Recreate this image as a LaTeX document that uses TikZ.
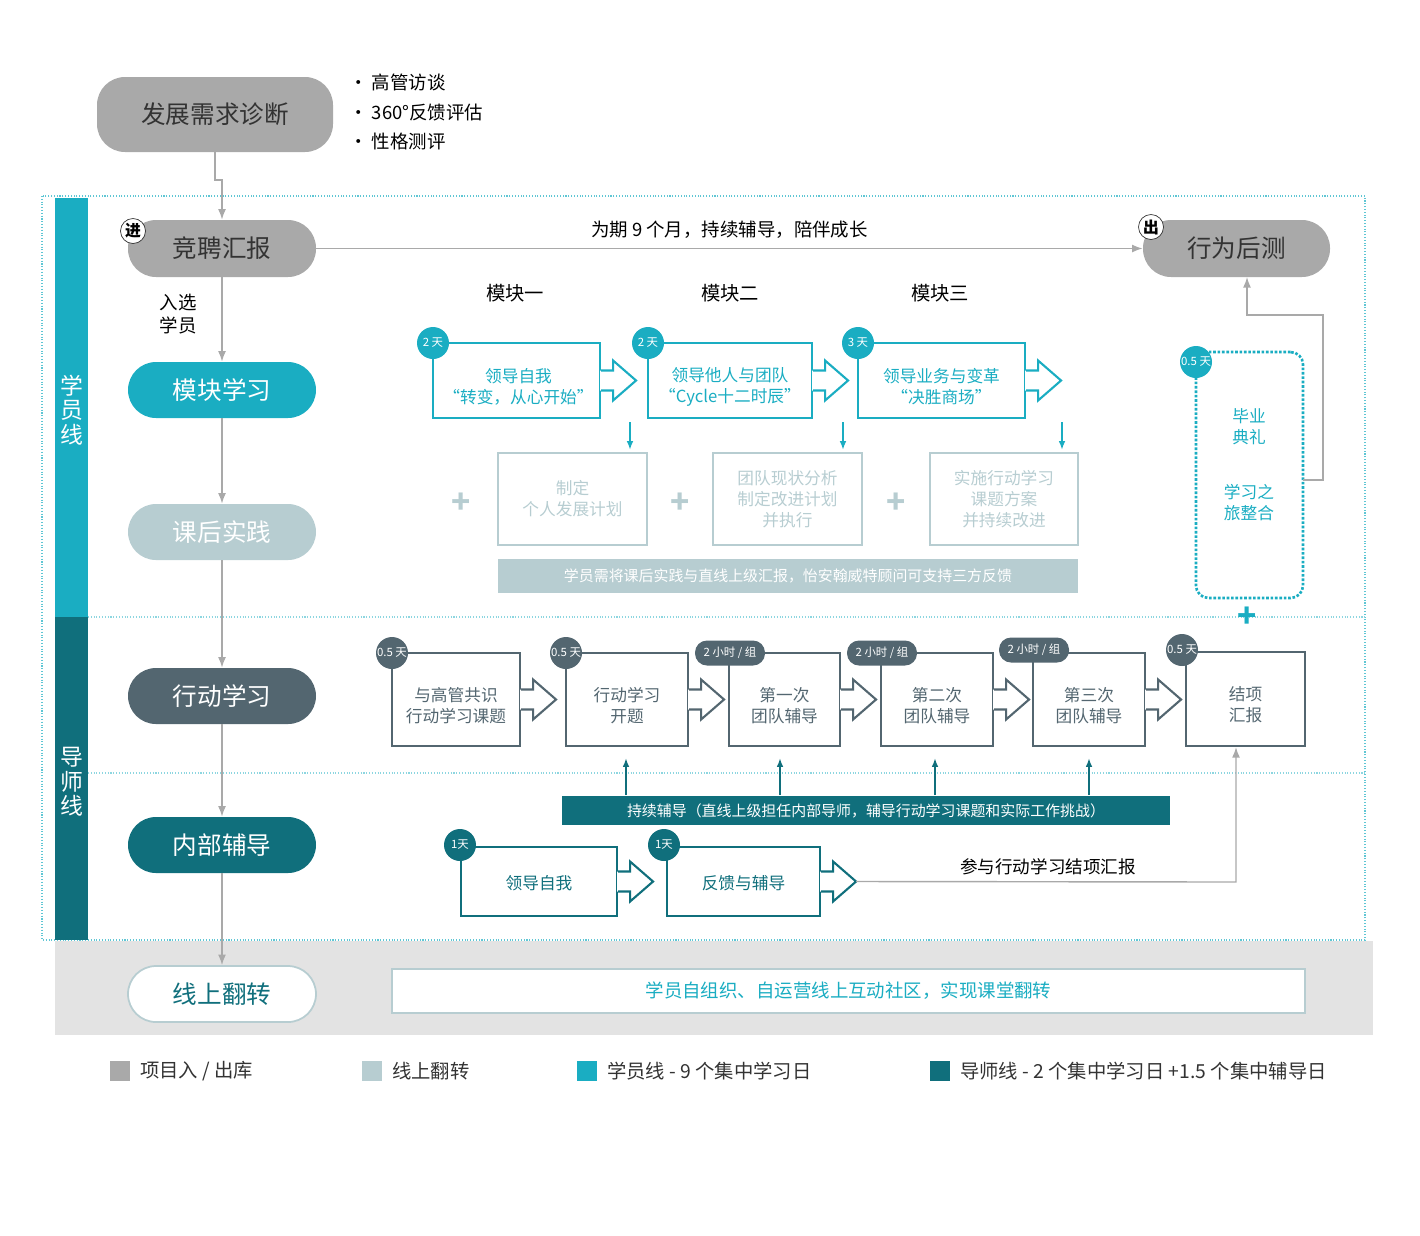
\documentclass[tikz,border=0pt]{standalone}
\usepackage{fontspec}
\setmainfont{Noto Sans CJK SC}
\usetikzlibrary{positioning,fit,calc,arrows.meta}
\definecolor{pgray}{HTML}{A9A9A9}
\definecolor{pcyan}{HTML}{1AADC2}
\definecolor{plight}{HTML}{B7CDD1}
\definecolor{pslate}{HTML}{536670}
\definecolor{pteal}{HTML}{106F7C}
\definecolor{pband}{HTML}{E3E3E3}
\tikzset{
  pill/.style={rounded corners=0.56cm, inner sep=0pt, text=white, font=\fontsize{14}{16}\selectfont},
  box/.style={draw, line width=1.2pt, inner sep=0pt},
  btxt/.style={align=center, font=\fontsize{9.5}{12}\selectfont},
  badge/.style={circle, minimum size=0.64cm, inner sep=0pt, text=white, font=\fontsize{6.5}{7}\selectfont},
  hbadge/.style={rounded corners=0.24cm, fill=pslate, minimum width=1.4cm, minimum height=0.5cm, inner sep=0pt, text=white, font=\fontsize{6.5}{7}\selectfont},
  conn/.style={draw=pgray, line width=0.8pt, -{Latex[length=6pt]}},
  plus/.style={font=\fontsize{18}{18}\selectfont\bfseries},
}
\newcommand{\blockarrow}[2]{%
  \fill[white] ($(#1.east)+(-1,-10)$) -- ++(13,0) -- ++(0,-10) -- ++(23,20) -- ++(-23,20) -- ++(0,-10) -- ++(-13,0) -- cycle;
  \draw[#2, line width=1.2pt, line join=miter] ($(#1.east)+(0,-10)$) -- ++(12,0) -- ++(0,-10) -- ++(23,20) -- ++(-23,20) -- ++(0,-10) -- ++(-12,0);}
\begin{document}
\begin{tikzpicture}[x=0.02cm, y=-0.02cm]
\useasboundingbox (0,0) rectangle (1420,1235);
% frame and side bands
\draw[pcyan!70, densely dotted, line width=0.6pt] (42,196) rectangle (1365,940);
\draw[pcyan!50, densely dotted, line width=0.6pt] (88,617) -- (1365,617);
\draw[pcyan!50, densely dotted, line width=0.6pt] (88,773) -- (1365,773);
\fill[pcyan] (55,198) rectangle (88,617);
\fill[pteal] (55,617) rectangle (88,940);
\node[text=white, align=center, font=\fontsize{13}{14}\selectfont] (lxue) at (72,410) {学\\员\\线};
\node[text=white, align=center, font=\fontsize{13}{14}\selectfont] (ldao) at (72,782) {导\\师\\线};
\fill[pband] (55,941) rectangle (1373,1035);

% left column
\node[pill, fill=pgray, fit={(97,77)(333,152)}] (diag) {};
\node[font=\fontsize{14}{16}\selectfont, text=black!80] at (diag.center) {发展需求诊断};
\node[anchor=west, align=left, font=\fontsize{10.5}{17}\selectfont] (tools) at (343,112) {· 高管访谈\\· 360°反馈评估\\· 性格测评};
\node[pill, fill=pgray, fit={(128,220)(316,277)}] (jp) {};
\node[font=\fontsize{14}{16}\selectfont, text=black!80] at (jp.center) {竞聘汇报};
\node[pill, fill=pgray, fit={(1143,220)(1330,277)}] (hc) {};
\node[font=\fontsize{14}{16}\selectfont, text=black!80] at (hc.center) {行为后测};
\node[circle, draw=black!80, fill=white, minimum size=0.5cm, inner sep=0pt, font=\fontsize{9}{9}\selectfont\bfseries] (jin) at (133,231) {进};
\node[circle, draw=black!80, fill=white, minimum size=0.5cm, inner sep=0pt, font=\fontsize{9}{9}\selectfont\bfseries] (chu) at (1151,227) {出};
\node[pill, fill=pcyan, fit={(128,362)(316,418)}] (mk) {};
\node[pill] at (mk.center) {模块学习};
\node[pill, fill=plight, fit={(128,504)(316,560)}] (kh) {};
\node[pill] at (kh.center) {课后实践};
\node[pill, fill=pslate, fit={(128,668)(316,724)}] (xd) {};
\node[pill] at (xd.center) {行动学习};
\node[pill, fill=pteal, fit={(128,817)(316,873)}] (nb) {};
\node[pill] at (nb.center) {内部辅导};
\node[pill, fill=white, draw=plight, line width=1pt, fit={(128,966)(316,1022)}] (xs) {};
\node[pill, text=pteal] at (xs.center) {线上翻转};

\draw[conn] (diag.south) -- (215,180) -- (222,180) -- (jp.north);
\draw[conn] (jp.south) -- (mk.north);
\node[align=center, font=\fontsize{10.5}{13}\selectfont] (rx) at (178,314) {入选\\学员};
\draw[conn] (mk.south) -- (kh.north);
\draw[conn] (kh.south) -- (xd.north);
\draw[conn] (xd.south) -- (nb.north);
\draw[conn] (nb.south) -- (xs.north);
\draw[conn] (jp.east) -- (hc.west) node[midway, above=2pt, font=\fontsize{10.5}{12}\selectfont] {为期 9 个月，持续辅导，陪伴成长};

% modules
\foreach \t/\x in {模块一/515, 模块二/730, 模块三/940}
  \node[font=\fontsize{11}{12}\selectfont] at (\x,293) {\t};
\node[box, draw=pcyan, fit={(433,343)(600,418)}] (m1) {};
\node[btxt, text=pcyan] at ($(m1.center)+(2,6)$) {领导自我\\“转变，从心开始”};
\node[box, draw=pcyan, fit={(648,343)(812,418)}] (m2) {};
\node[btxt, text=pcyan] at ($(m2.center)+(0,6)$) {领导他人与团队\\“Cycle十二时辰”};
\node[box, draw=pcyan, fit={(858,343)(1025,418)}] (m3) {};
\node[btxt, text=pcyan] at ($(m3.center)+(0,6)$) {领导业务与变革\\“决胜商场”};
\foreach \n in {m1,m2,m3} {\blockarrow{\n}{pcyan}}
\node[badge, fill=pcyan] (b1) at (433,343) {2 天};
\node[badge, fill=pcyan] (b2) at (648,343) {2 天};
\node[badge, fill=pcyan] (b3) at (858,343) {3 天};
\foreach \x in {630,843,1062}
  \draw[pcyan, line width=1pt, -{Latex[length=5pt]}] (\x,422) -- (\x,450);

% practice
\node[box, draw=plight, fit={(498,453)(647,545)}] (p1) {};
\node[btxt, text=plight] at (p1.center) {制定\\个人发展计划};
\node[box, draw=plight, fit={(713,453)(862,545)}] (p2) {};
\node[btxt, text=plight] at (p2.center) {团队现状分析\\制定改进计划\\并执行};
\node[box, draw=plight, fit={(930,453)(1078,545)}] (p3) {};
\node[btxt, text=plight] at (p3.center) {实施行动学习\\课题方案\\并持续改进};
\foreach \x in {461,680,896} \node[plus, text=plight] at (\x,503) {+};
\node[fill=plight, inner sep=0pt, fit={(498,559)(1078,593)}] (pbar) {};
\node[text=white, font=\fontsize{8.5}{10}\selectfont] at (pbar.center) {学员需将课后实践与直线上级汇报，怡安翰威特顾问可支持三方反馈};

% graduation
\node[draw=pcyan, densely dotted, line width=1.5pt, rounded corners=0.25cm, inner sep=0pt, fit={(1196,352)(1303,598)}] (by) {};
\node[btxt, text=pcyan] at (1249,427) {毕业\\典礼};
\node[btxt, text=pcyan] at (1249,503) {学习之\\旅整合};
\node[badge, fill=pcyan] (b4) at (1196,362) {0.5 天};
\node[plus, text=pcyan] at (1247,617) {+};
\draw[conn] (1303,480) -- (1323,480) -- (1323,315) -- (1247,315) -- (1247,277);

% action learning
\node[box, draw=pslate, fit={(392,653)(520,746)}] (a1) {};
\node[btxt, text=pslate] at ($(a1.center)+(0,6)$) {与高管共识\\行动学习课题};
\node[box, draw=pslate, fit={(566,653)(688,746)}] (a2) {};
\node[btxt, text=pslate] at ($(a2.center)+(0,6)$) {行动学习\\开题};
\node[box, draw=pslate, fit={(729,653)(840,746)}] (a3) {};
\node[btxt, text=pslate] at ($(a3.center)+(0,6)$) {第一次\\团队辅导};
\node[box, draw=pslate, fit={(881,653)(993,746)}] (a4) {};
\node[btxt, text=pslate] at ($(a4.center)+(0,6)$) {第二次\\团队辅导};
\node[box, draw=pslate, fit={(1033,653)(1145,746)}] (a5) {};
\node[btxt, text=pslate] at ($(a5.center)+(0,6)$) {第三次\\团队辅导};
\node[box, draw=pslate, fit={(1186,652)(1305,746)}] (a6) {};
\node[btxt, text=pslate] at ($(a6.center)+(0,6)$) {结项\\汇报};
\foreach \n in {a1,a2,a3,a4,a5} {\blockarrow{\n}{pslate}}
\node[badge, fill=pslate] (c1) at (392,653) {0.5 天};
\node[badge, fill=pslate] (c2) at (566,653) {0.5 天};
\node[badge, fill=pslate] (c6) at (1182,650) {0.5 天};
\node[hbadge] (c3) at (730,653) {2 小时 / 组};
\node[hbadge] (c4) at (882,653) {2 小时 / 组};
\node[hbadge] (c5) at (1034,650) {2 小时 / 组};

% internal coaching
\node[fill=pteal, inner sep=0pt, fit={(562,796)(1170,825)}] (dbar) {};
\node[text=white, font=\fontsize{8.5}{10}\selectfont] at (dbar.center) {持续辅导（直线上级担任内部导师，辅导行动学习课题和实际工作挑战）};
\foreach \x in {626,780,935,1089}
  \draw[pteal, line width=1pt, -{Latex[length=5pt]}] (\x,795) -- (\x,758);
\node[box, draw=pteal, fit={(461,847)(617,916)}] (n1) {};
\node[btxt, text=pteal] at ($(n1.center)+(0,2)$) {领导自我};
\node[box, draw=pteal, fit={(667,847)(820,916)}] (n2) {};
\node[btxt, text=pteal] at ($(n2.center)+(0,2)$) {反馈与辅导};
\foreach \n in {n1,n2} {\blockarrow{\n}{pteal}}
\node[badge, fill=pteal] (d1) at (460,845) {1天};
\node[badge, fill=pteal] (d2) at (664,845) {1天};
\draw[conn] ($(n2.east)+(35,0)$) -- (1236,882) -- (a6.south -| 1236,0);
\node[font=\fontsize{10}{12}\selectfont] at (1048,867) {参与行动学习结项汇报};

% online
\node[fill=white, draw=plight, line width=1pt, inner sep=0pt, fit={(392,969)(1305,1013)}] (ol) {};
\node[text=pcyan, font=\fontsize{10.5}{12}\selectfont] at (ol.center) {学员自组织、自运营线上互动社区，实现课堂翻转};

% legend
\tikzset{leg/.style={anchor=west, font=\fontsize{11}{12}\selectfont, text=black!80}}
\fill[pgray] (110,1061) rectangle (130,1081);
\node[leg] at (134,1071) {项目入 / 出库};
\fill[plight] (362,1061) rectangle (382,1081);
\node[leg] at (386,1071) {线上翻转};
\fill[pcyan] (577,1061) rectangle (597,1081);
\node[leg] at (601,1071) {学员线 - 9 个集中学习日};
\fill[pteal] (930,1061) rectangle (950,1081);
\node[leg] at (954,1071) {导师线 - 2 个集中学习日 +1.5 个集中辅导日};
\end{tikzpicture}
\end{document}
